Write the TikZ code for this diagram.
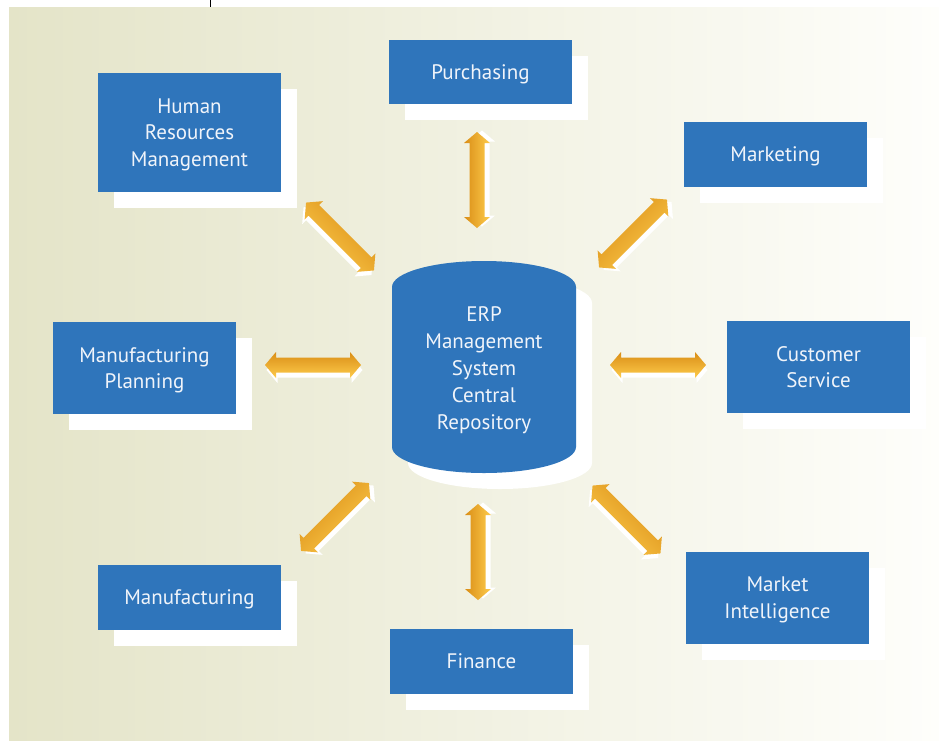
\documentclass[tikz,border=0pt]{standalone}
\usepackage{fontspec}
\setmainfont{PT Sans}
\usetikzlibrary{shadows}
\definecolor{boxblue}{RGB}{47,117,187}
\definecolor{bgleft}{RGB}{228,228,200}
\definecolor{bgright}{RGB}{254,254,251}
\definecolor{arrdark}{RGB}{218,142,22}
\definecolor{arrlight}{RGB}{253,203,76}
\definecolor{txtwhite}{RGB}{240,244,250}
\begin{document}
\begin{tikzpicture}[x=1pt,y=-1pt,
  modbox/.style={fill=boxblue, text=txtwhite, align=center,
    font=\fontsize{21}{26.8}\selectfont, inner sep=0pt, minimum width=183pt,
    text depth=0pt,
    general shadow={fill=white, shadow xshift=16pt, shadow yshift=-16pt}},
  centertext/.style={text=txtwhite, align=center,
    font=\fontsize{21}{26.8}\selectfont, inner sep=0pt, text depth=0pt},
  arrowfill/.style={left color=arrdark, right color=arrlight},
  pics/dblarrow/.default=0,
  pics/dblarrow/.style={code={
    \fill[white, shift={(1.5,5)}] (-48,0) -- (-37,-13) -- (-37,-7.5) -- (37,-7.5) -- (37,-13) -- (48,0)
      -- (37,13) -- (37,7.5) -- (-37,7.5) -- (-37,13) -- cycle;
    \shade[arrowfill, shading angle=#1] (-48,0) -- (-37,-13) -- (-37,-7.5) -- (37,-7.5) -- (37,-13) -- (48,0)
      -- (37,13) -- (37,7.5) -- (-37,7.5) -- (-37,13) -- cycle;
  }}
]
\useasboundingbox (0,0) rectangle (939,740);
\shade[left color=bgleft, right color=bgright] (9,7) rectangle (939,740);
\draw[line width=0.8pt] (210,0) -- (210,7);

% module boxes
\node[modbox, minimum height=64pt] (pur) at (480.5,72) {Purchasing};
\node[modbox, minimum height=119pt] (hrm) at (189.5,132.5) {Human\\Resources\\Management};
\node[modbox, minimum height=65pt] (mkt) at (775.5,154.5) {Marketing};
\node[modbox, minimum height=92pt] (mfp) at (144.5,368) {Manufacturing\\Planning};
\node[modbox, minimum height=92pt] (cus) at (818.5,367) {Customer\\Service};
\node[modbox, minimum height=65pt] (mfg) at (189.5,597.5) {Manufacturing};
\node[modbox, minimum height=65pt] (fin) at (481.5,661.5) {Finance};
\node[modbox, minimum height=92pt] (mi) at (777.5,598) {Market\\Intelligence};

% central repository cylinder
\fill[white] (408,303) arc[start angle=180, end angle=360, x radius=92, y radius=26]
  -- (592,463) arc[start angle=0, end angle=180, x radius=92, y radius=26] -- cycle;
\fill[boxblue] (392,287) arc[start angle=180, end angle=360, x radius=92, y radius=26]
  -- (576,447) arc[start angle=0, end angle=180, x radius=92, y radius=26] -- cycle;
\node[centertext] (erp) at (484,368) {ERP\\Management\\System\\Central\\Repository};

% arrows between repository and modules
\coordinate (aPur) at (477,180);
\coordinate (aFin) at (478,552);
\coordinate (aMfp) at (313,365);
\coordinate (aCus) at (658,365);
\coordinate (aHrm) at (340,236.5);
\coordinate (aMkt) at (633,233.5);
\coordinate (aMi) at (626.5,519.5);
\coordinate (aMfg) at (335,517);
\pic[rotate=90] at (aPur) {dblarrow=90};
\pic[rotate=90] at (aFin) {dblarrow=90};
\pic at (aMfp) {dblarrow=0};
\pic at (aCus) {dblarrow=0};
\pic[rotate=-45] at (aHrm) {dblarrow=-45};
\pic[rotate=45] at (aMkt) {dblarrow=45};
\pic[rotate=-45] at (aMi) {dblarrow=-45};
\pic[rotate=45] at (aMfg) {dblarrow=45};
\end{tikzpicture}
\end{document}
